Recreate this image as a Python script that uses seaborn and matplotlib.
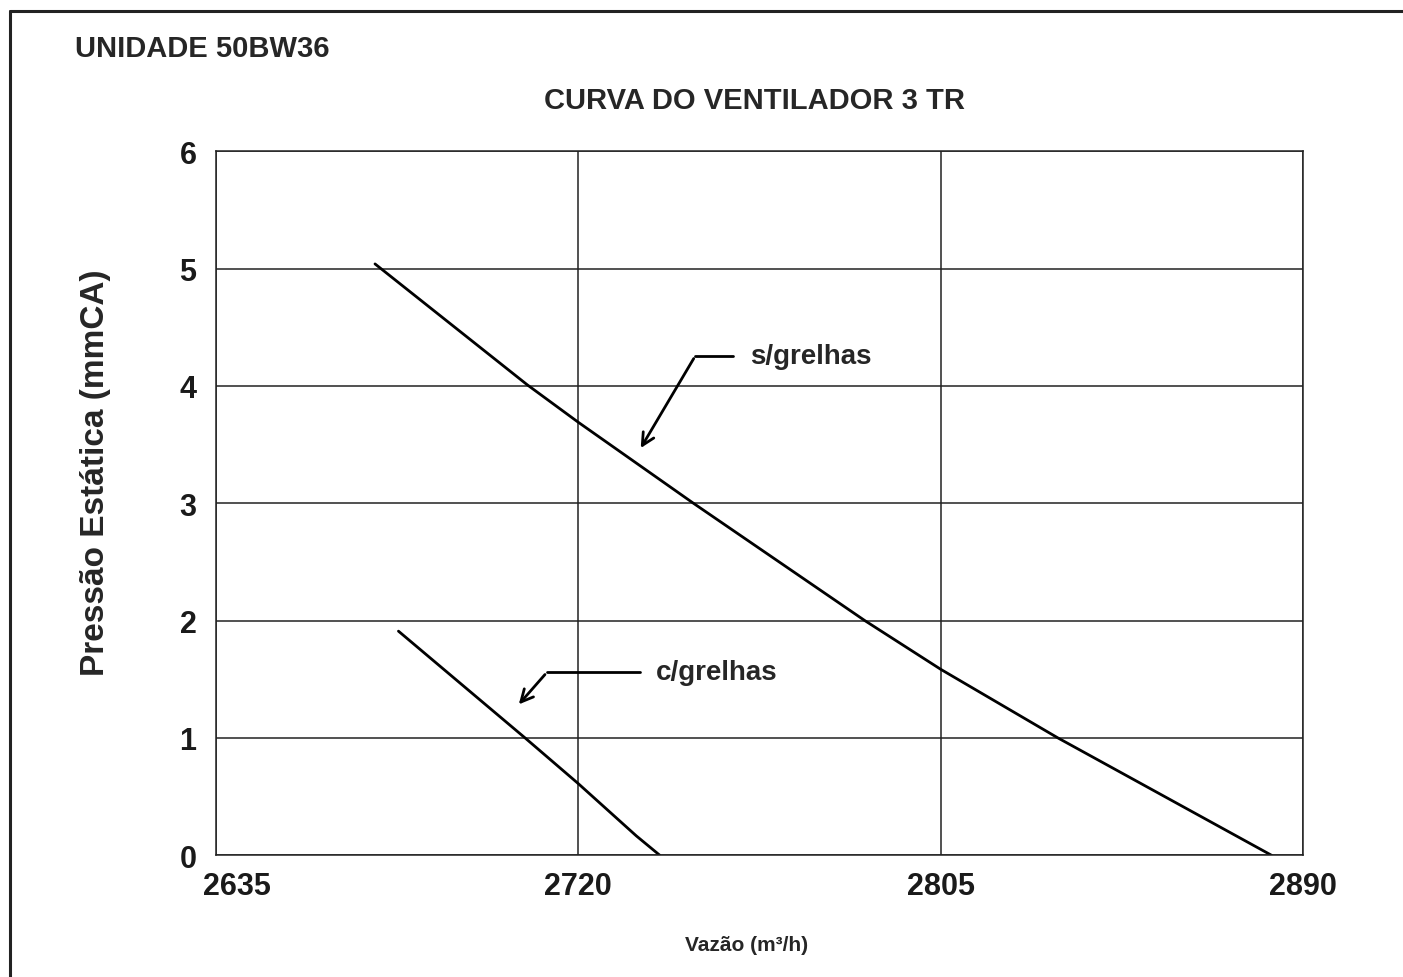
import pandas as pd
import seaborn as sns
import matplotlib.pyplot as plt
from matplotlib.transforms import ScaledTranslation

# curve points (flow m3/h, static pressure mmCA)
s_vazao = [2672.3, 2708.0, 2720.0, 2747.0, 2787.2, 2805.0, 2832.5, 2882.6]
s_pressao = [5.04, 4.01, 3.69, 3.0, 2.0, 1.585, 1.0, 0.0]
c_vazao = [2677.8, 2707.5, 2720.0, 2733.6, 2739.1]
c_pressao = [1.91, 1.0, 0.61, 0.165, 0.0]

x_ticks = [2635, 2720, 2805, 2890]
y_ticks = [0, 1, 2, 3, 4, 5, 6]

df = pd.concat([
    pd.DataFrame({"Vazao": s_vazao, "Pressao": s_pressao, "curva": "s/grelhas"}),
    pd.DataFrame({"Vazao": c_vazao, "Pressao": c_pressao, "curva": "c/grelhas"}),
])

sns.set_style("white")
plt.rcParams["font.family"] = ["Liberation Sans", "DejaVu Sans"]

fig = plt.figure(figsize=(14.03, 9.78), dpi=100)
ax = fig.add_axes([0.15396, 0.1245, 0.77477, 0.7198])

sns.lineplot(data=df, x="Vazao", y="Pressao", hue="curva", units="curva",
             estimator=None, sort=False, palette=["black", "black"],
             linewidth=2.0, legend=False, ax=ax)

ax.set_xlim(2635, 2890)
ax.set_ylim(0, 6)
ax.set_xticks(x_ticks)
ax.set_yticks(y_ticks)
ax.grid(True, color="#222222", linewidth=1.1)
for sp in ax.spines.values():
    sp.set_color("#222222")
    sp.set_linewidth(1.1)
ax.tick_params(length=0, labelsize=22, colors="#1a1a1a")
ax.tick_params(axis="x", pad=11)
ax.tick_params(axis="y", pad=14)
for lab in ax.get_xticklabels() + ax.get_yticklabels():
    lab.set_fontweight("bold")
# first x label sits to the right of the axis corner
first = ax.get_xticklabels()[0]
first.set_ha("left")
first.set_transform(first.get_transform() + ScaledTranslation(-0.13, 0, fig.dpi_scale_trans))

ax.set_xlabel("Vazão (m³/h)", fontsize=15, fontweight="bold",
              family=["Liberation Sans Narrow", "Liberation Sans", "DejaVu Sans"])
ax.xaxis.set_label_coords(0.488, -0.1136)
ax.set_ylabel("Pressão Estática (mmCA)", fontsize=24, fontweight="bold")
ax.yaxis.set_label_coords(-0.097, 0.545)

# annotations with bent arrows
ax.plot([2747.4, 2756.3], [4.254, 4.254], color="black", lw=2)
ax.annotate("", xy=(2734.3, 3.45), xytext=(2747.4, 4.254),
            arrowprops=dict(arrowstyle="->", color="black", lw=2, mutation_scale=22))
ax.text(2760.2, 4.254, "s/grelhas", fontsize=20, fontweight="bold", va="center")

ax.plot([2712.6, 2734.5], [1.558, 1.558], color="black", lw=2)
ax.annotate("", xy=(2705.6, 1.268), xytext=(2712.6, 1.558),
            arrowprops=dict(arrowstyle="->", color="black", lw=2, mutation_scale=22))
ax.text(2738.3, 1.558, "c/grelhas", fontsize=20, fontweight="bold", va="center")

fig.text(0.0535, 0.950, "UNIDADE 50BW36", fontsize=21, fontweight="bold", va="center")
fig.text(0.538, 0.8967, "CURVA DO VENTILADOR 3 TR", fontsize=21, fontweight="bold",
         ha="center", va="center")

# outer frame (left and top edges visible)
fig.add_artist(plt.Line2D([10 / 1403, 10 / 1403], [0, 1 - 12 / 978], color="#222222", lw=2.2))
fig.add_artist(plt.Line2D([10 / 1403, 1], [1 - 12 / 978, 1 - 12 / 978], color="#222222", lw=2.2))

fig.savefig("out.png", dpi=100)
